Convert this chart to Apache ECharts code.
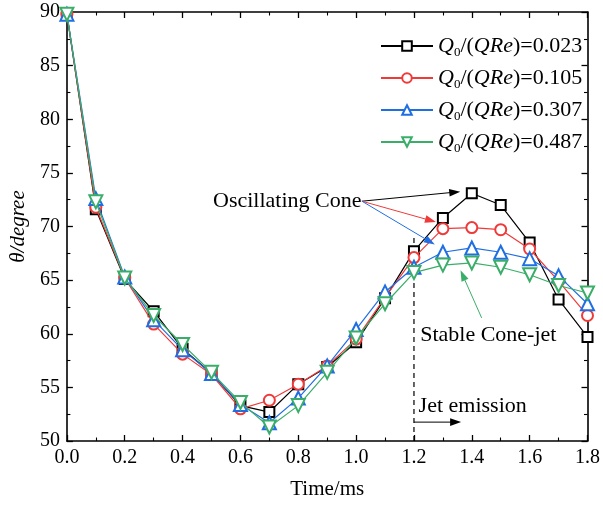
<!DOCTYPE html>
<html>
<head>
<meta charset="utf-8">
<script src="https://cdn.jsdelivr.net/npm/echarts@6/dist/echarts.min.js"></script>
<style>
html,body{margin:0;padding:0;background:#fff;}
#c{width:603px;height:505px;}
</style>
</head>
<body>
<div id="c"></div>
<script>
// ---- data ----
const times = [0.0,0.1,0.2,0.3,0.4,0.5,0.6,0.7,0.8,0.9,1.0,1.1,1.2,1.3,1.4,1.5,1.6,1.7,1.8];
const seriesNames = ['Q0/(QRe)=0.023','Q0/(QRe)=0.105','Q0/(QRe)=0.307','Q0/(QRe)=0.487'];
const ratioLabels = ['0.023','0.105','0.307','0.487'];
const theta023 = [89.8,71.6,65.1,62.1,58.6,56.3,53.3,52.7,55.3,56.9,59.2,63.3,67.7,70.8,73.1,72.0,68.5,63.2,59.7];
const theta105 = [89.8,71.8,65.2,60.9,58.1,56.2,53.0,53.8,55.3,57.0,59.5,63.4,67.1,69.8,69.9,69.7,67.9,64.9,61.7];
const theta307 = [89.8,72.6,65.3,61.3,58.5,56.3,53.4,51.7,54.0,57.0,60.4,63.9,66.2,67.6,68.0,67.6,67.0,65.4,62.8];
const theta487 = [89.8,72.3,65.2,61.7,59.0,56.4,53.6,51.3,53.3,56.4,59.6,62.8,65.7,66.4,66.6,66.2,65.5,64.5,63.8];
const xTickLabels = ['0.0','0.2','0.4','0.6','0.8','1.0','1.2','1.4','1.6','1.8'];
const yTickLabels = ['50','55','60','65','70','75','80','85','90'];

// ---- annotations (data coordinates) ----
const annoTexts = [
  {text:'Oscillating Cone', at:[0.762,72.36]},
  {text:'Stable Cone-jet', at:[1.457,59.9]},
  {text:'Jet emission', at:[1.403,53.2]}
];
const annoArrows = [
  {from:[1.02,72.36], to:[1.36,73.25], c:0},
  {from:[1.02,72.36], to:[1.276,70.42], c:1},
  {from:[1.02,72.36], to:[1.272,68.32], c:2},
  {from:[1.434,61.48], to:[1.361,65.92], c:3},
  {from:[1.2,51.76], to:[1.363,51.76], c:0}
];
const jetLine = [[1.2,50],[1.2,69]];

const colors = ['#000000','#f03a3a','#1f6fe3','#3aae68'];
const symbols = ['rect','circle','triangle','triangle'];
const symRot = [0,0,0,180];
const symSizes = [10,11,13,13];
const FONT = "'Liberation Serif','Times New Roman',serif";

const allData = [theta023, theta105, theta307, theta487];
const series = allData.map((vals,i)=>({
  name: seriesNames[i],
  type:'line',
  data: times.map((t,j)=>[t, vals[j]]),
  symbol: symbols[i],
  symbolRotate: symRot[i],
  symbolSize: symSizes[i],
  showAllSymbol: true,
  lineStyle:{color:colors[i], width:1.2},
  itemStyle:{color:'#ffffff', borderColor:colors[i], borderWidth:2},
  emphasis:{disabled:true},
  z: 2+i
}));

const baseAxis = {
  axisLine:{show:true, onZero:false, lineStyle:{color:'#000', width:1.6}},
  axisTick:{show:true, inside:true, length:6, lineStyle:{color:'#000', width:1.3}},
  minorTick:{show:true, splitNumber:2, length:3.5, lineStyle:{color:'#000', width:1.1}},
  splitLine:{show:false},
};

const chart = echarts.init(document.getElementById('c'), null, {renderer:'canvas'});
const option = {
  animation:false,
  color: colors,
  grid:{left:59, right:9, top:12, bottom:59, containLabel:false},
  legend:{
    data: seriesNames,
    orient:'vertical',
    left:375, top:28,
    itemWidth:52, itemHeight:12, itemGap:6,
    formatter: function(name){
      const i = seriesNames.indexOf(name);
      return '{i|Q}{s|0}{n|/(}{i|QRe}{n|)=' + ratioLabels[i] + '}';
    },
    textStyle:{
      fontFamily:FONT, fontSize:22, color:'#000', lineHeight:26,
      rich:{
        i:{fontFamily:FONT, fontSize:22, fontStyle:'italic', color:'#000', lineHeight:26},
        n:{fontFamily:FONT, fontSize:22, color:'#000', lineHeight:26},
        s:{fontFamily:FONT, fontSize:13, color:'#000', lineHeight:26, verticalAlign:'bottom', padding:[10,0,0,0]}
      }
    },
    selectedMode:false
  },
  xAxis:[
    Object.assign({}, baseAxis, {
      type:'value', position:'bottom', min:0, max:1.8, interval:0.2,
      name:'Time/ms', nameLocation:'middle', nameGap:38,
      nameTextStyle:{fontFamily:FONT, fontSize:21, color:'#000'},
      axisLabel:{show:true, margin:7, fontFamily:FONT, fontSize:20, color:'#000',
        formatter:function(v){ const k=Math.round(v/0.2); return xTickLabels[k]; }}
    }),
    Object.assign({}, baseAxis, {
      type:'value', position:'top', min:0, max:1.8, interval:0.2,
      axisLabel:{show:false}
    })
  ],
  yAxis:[
    Object.assign({}, baseAxis, {
      type:'value', position:'left', min:50, max:90, interval:5,
      name:'\u03b8/degree', nameLocation:'middle', nameGap:26, nameRotate:90,
      nameTextStyle:{fontFamily:FONT, fontSize:21, fontStyle:'italic', color:'#000'},
      axisLabel:{show:true, margin:7, fontFamily:FONT, fontSize:20, color:'#000',
        formatter:function(v){ const k=Math.round((v-50)/5); return yTickLabels[k]; }}
    }),
    Object.assign({}, baseAxis, {
      type:'value', position:'right', min:50, max:90, interval:5,
      axisLabel:{show:false}
    })
  ],
  series: series
};
chart.setOption(option);

// annotations via pixel conversion of data coordinates
function px(p){ return chart.convertToPixel({xAxisIndex:0, yAxisIndex:0}, p); }
const graphics = [];
const jl0 = px(jetLine[0]), jl1 = px(jetLine[1]);
graphics.push({type:'line', shape:{x1:jl0[0], y1:jl0[1], x2:jl1[0], y2:jl1[1]},
  style:{stroke:'#000', lineWidth:1.2, lineDash:[5,4]}, z:1});
annoArrows.forEach(a=>{
  const p0 = px(a.from), p1 = px(a.to);
  const dx = p1[0]-p0[0], dy = p1[1]-p0[1];
  const L = Math.sqrt(dx*dx+dy*dy);
  const ux = dx/L, uy = dy/L;
  const hl = 11, hw = 3.8;
  const bx = p1[0]-ux*hl, by = p1[1]-uy*hl;
  const col = colors[a.c];
  graphics.push({type:'line', shape:{x1:p0[0], y1:p0[1], x2:bx+ux*2, y2:by+uy*2},
    style:{stroke:col, lineWidth:1}, z:20});
  graphics.push({type:'polygon',
    shape:{points:[[p1[0],p1[1]],[bx-uy*hw, by+ux*hw],[bx+uy*hw, by-ux*hw]]},
    style:{fill:col}, z:20});
});
annoTexts.forEach(t=>{
  const p = px(t.at);
  graphics.push({type:'text', x:p[0], y:p[1],
    style:{text:t.text, fontFamily:FONT, fontSize:22, fill:'#000', align:'center', verticalAlign:'middle'}, z:20});
});
chart.setOption({graphic: graphics});
</script>
</body>
</html>
